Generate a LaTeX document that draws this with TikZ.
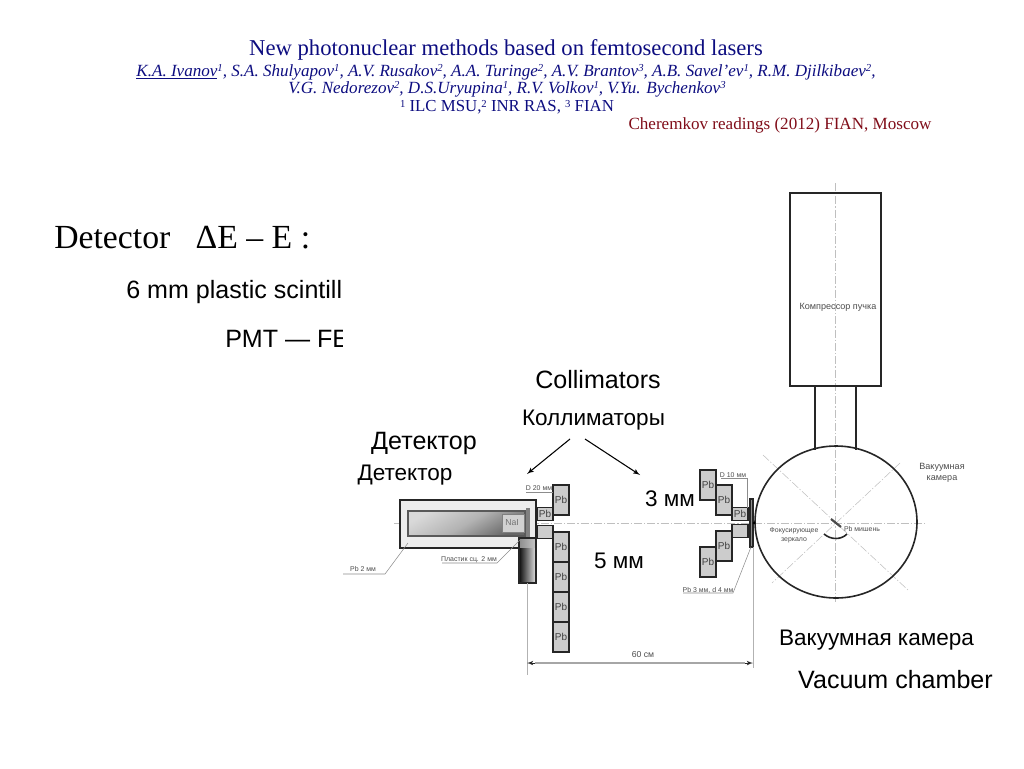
\documentclass[tikz,border=0pt]{standalone}
\usepackage{fontspec}
\setmainfont{Liberation Serif}
\setsansfont{Liberation Sans}
\usepackage{tikz}
\usetikzlibrary{arrows}
\definecolor{mnavy}{rgb}{0.05, 0.05, 0.5}
\definecolor{mred}{rgb}{0.5, 0.05, 0.1}
\newcommand{\supnum}[1]{\raisebox{0.55ex}{\fontsize{8}{8}\selectfont #1}}
\tikzset{txt/.style = {inner sep = 0, font = \sffamily\fontsize{18.8}{20}\selectfont}}
\tikzset{txtsmall/.style = {inner sep = 0, font = \sffamily\fontsize{16.9}{20}\selectfont}}
\tikzset{tiny/.style = {inner sep = 0, text = black!70, align = center, font = \sffamily\fontsize{5.2}{6.5}\selectfont}}
\tikzset{head/.style = {inner sep = 0, text = mnavy, font = \fontsize{12.8}{14}\selectfont\itshape}}
\tikzset{pbbig/.style = {draw = black!85, line width = 1pt, fill = black!20, inner sep = 0, minimum width = 12pt, minimum height = 22.5pt, text = black!75, font = \sffamily\fontsize{7.5}{8}\selectfont}}
\tikzset{pbsmall/.style = {pbbig, minimum height = 9.5pt}}
\tikzset{leader/.style = {draw = black!45, line width = 0.4pt}}
\tikzset{axisline/.style = {draw = black!25, line width = 0.4pt, dash pattern = on 6pt off 1.5pt on 1pt off 1.5pt}}
\tikzset{contour/.style = {draw = black!85, line width = 1.2pt}}

\begin{document}
\begin{tikzpicture}[x=0.75pt, y=-0.75pt]
    \useasboundingbox (0, 0) rectangle (1024, 768);

    % heading
    \node [head, font = \fontsize{17}{18}\selectfont] (title) at (506, 50) {New photonuclear methods based on femtosecond lasers};
    \node [head] (authorsa) at (506, 72) {\underline{K.A. Ivanov}\supnum{1}, S.A. Shulyapov\supnum{1}, A.V. Rusakov\supnum{2}, A.A. Turinge\supnum{2}, A.V. Brantov\supnum{3}, A.B. Savel’ev\supnum{1}, R.M. Djilkibaev\supnum{2},};
    \node [head] (authorsb) at (507, 89) {V.G. Nedorezov\supnum{2}, D.S.Uryupina\supnum{1}, R.V. Volkov\supnum{1}, V.Yu. Bychenkov\supnum{3}};
    \node [head, font = \fontsize{12.6}{14}\selectfont] (places) at (507, 107) {\supnum{1} ILC MSU,\supnum{2} INR RAS, \supnum{3} FIAN};
    \node [inner sep = 0, text = mred, font = \fontsize{12.8}{14}\selectfont] (meeting) at (780, 125) {Cheremkov readings (2012) FIAN, Moscow};

    % left text, cut off by the drawing
    \node [inner sep = 0, anchor = west, font = \fontsize{25.3}{26}\selectfont] (detector) at (54, 238) {Detector \ \ ΔE – E :};
    \begin{scope}
      \clip (0, 270) rectangle (342, 360);
      \node [txt, anchor = west] (plastic) at (126, 292.5) {6 mm plastic scintill};
      \node [txt, anchor = west] (pmt) at (225, 339) {PMT — FE};
    \end{scope}

    % axes
    \draw [axisline] (394, 523) -- (925, 523);
    \draw [axisline] (835, 183) -- (835, 602);
    \draw [axisline] (763, 455) -- (908, 590);
    \draw [axisline] (900, 463) -- (772, 583);

    % compressor and chamber
    \draw [contour] (790, 193) rectangle (881, 386);
    \node [tiny, font = \sffamily\fontsize{6.8}{8}\selectfont] (compressor) at (838, 307) {Компрессор пучка};
    \draw [contour] (815, 386) -- (815, 450);
    \draw [contour] (856, 386) -- (856, 450);
    \draw [contour] (836, 522) ellipse (81 and 76);
    \draw [black!70, line width = 1.6pt] (831, 519) -- (841, 527);
    \draw [contour] (824, 534) .. controls (831, 540) and (841, 540) .. (847, 534);
    \node [tiny] (target) at (862, 529) {Pb мишень};
    \node [tiny] (mirror) at (794, 535) {Фокусирующее\\зеркало};
    \node [tiny, font = \sffamily\fontsize{6.8}{8.5}\selectfont] (chambertag) at (942, 473) {Вакуумная\\камера};

    % detector
    \draw [contour, fill = black!7] (400, 500) rectangle (536, 548);
    \draw [draw = black!65, line width = 0.8pt, top color = black!15, bottom color = black!60, middle color = black!30, shading angle = 30] (408, 511) rectangle (525, 536);
    \draw [draw = black!50, fill = black!18, line width = 0.6pt] (502, 514) rectangle (524, 532);
    \node [tiny, font = \sffamily\fontsize{6.5}{7}\selectfont, text = black!55] (nai) at (512, 523) {NaI};
    \draw [draw = black!50, fill = black!50] (526, 508) rectangle (529, 538);
    \shade [left color = black!45, right color = black!22] (519, 538) rectangle (536, 548);
    \shade [left color = black!95, right color = black!10] (519, 548) rectangle (536, 583);
    \draw [contour, line width = 1pt] (519, 538) rectangle (536, 583);

    % left collimator
    \node [pbbig] (pba) at (561, 500) {Pb};
    \node [pbsmall] (pbb) at (545, 514) {Pb};
    \node [pbsmall] (pbc) at (545, 532) {};
    \node [pbbig] (pbd) at (561, 547) {Pb};
    \node [pbbig] (pbe) at (561, 577) {Pb};
    \node [pbbig] (pbf) at (561, 607) {Pb};
    \node [pbbig] (pbg) at (561, 637) {Pb};

    % right collimator
    \node [pbbig] (pbh) at (708, 485) {Pb};
    \node [pbbig] (pbi) at (724, 500) {Pb};
    \node [pbsmall] (pbj) at (740, 514) {Pb};
    \node [pbsmall] (pbk) at (740, 531) {};
    \node [pbbig] (pbl) at (724, 546) {Pb};
    \node [pbbig] (pbm) at (708, 562) {Pb};
    \draw [contour, line width = 1pt, fill = black!45] (750, 499) rectangle (753, 547);
    \fill [black] (754, 523) circle [radius = 1.5];

    % small labels and their leaders
    \node [tiny] (dwide) at (539, 488) {D 20 мм};
    \node [tiny] (dnarrow) at (733, 475) {D 10 мм};
    \node [tiny] (pbplate) at (708, 590) {Pb 3 мм, d 4 мм};
    \node [tiny] (pbcase) at (363, 569) {Pb 2 мм};
    \node [tiny] (plasticlabel) at (469, 560) {Пластик сц. 2 мм};
    \draw [leader] (343, 574) -- (385, 574) -- (408, 543);
    \draw [leader] (442, 563) -- (497, 563) -- (520, 540);
    \draw [leader] (526, 492) -- (553, 492);
    \draw [leader] (721, 478) -- (747, 478) -- (747, 508);
    \draw [leader] (683, 593) -- (733, 593) -- (751, 547);

    % distance
    \coordinate (distl) at (527, 663);
    \coordinate (distr) at (753, 663);
    \draw [draw = black!30, line width = 0.6pt] (527, 583) -- (527, 675);
    \draw [draw = black!30, line width = 0.6pt] (753, 547) -- (753, 668);
    \draw [black!85, latex'-latex', line width = 0.6pt] (distl) -- (distr);
    \draw [draw = black!35, line width = 0.8pt, shorten > = 6pt, shorten < = 6pt] (distl) -- (distr);
    \node [tiny, font = \sffamily\fontsize{6.5}{7}\selectfont] (dist) at (643, 655) {60 см};

    % big labels
    \node [txt] (collim) at (598, 380) {Collimators};
    \node [txtsmall] (collimru) at (593.5, 420) {Коллиматоры};
    \node [txt] (detru) at (424, 443) {Детектор};
    \node [txtsmall] (detrus) at (405, 475) {Детектор};
    \node [txtsmall] (threemm) at (670, 499) {3 мм};
    \node [txtsmall] (fivemm) at (619, 561) {5 мм};
    \node [txtsmall] (chamberru) at (876.5, 640) {Вакуумная камера};
    \node [txt] (chamberen) at (895.5, 680) {Vacuum chamber};

    \coordinate (arrowa) at (570, 439);
    \coordinate (arrowb) at (527, 474);
    \coordinate (arrowc) at (585, 439);
    \coordinate (arrowd) at (640, 475);
    \draw [-latex', line width = 0.8pt] (arrowa) -- (arrowb);
    \draw [-latex', line width = 0.8pt] (arrowc) -- (arrowd);
  \end{tikzpicture}
\end{document}
